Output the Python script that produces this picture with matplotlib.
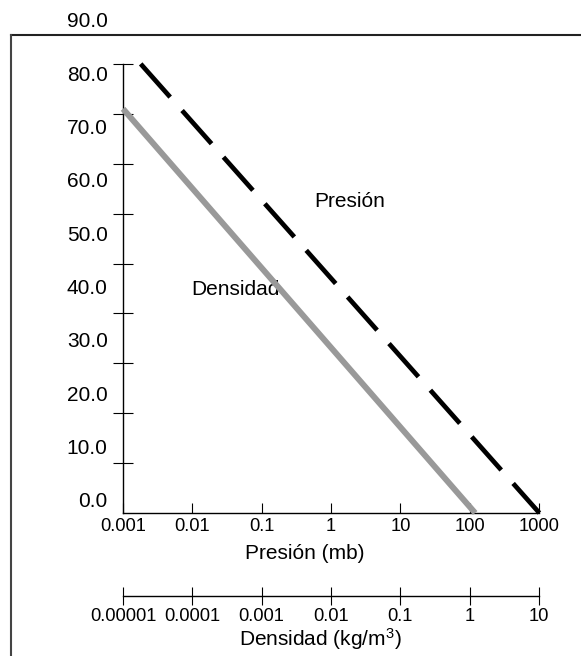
import matplotlib
matplotlib.use("Agg")
import matplotlib.pyplot as plt
from matplotlib.lines import Line2D

plt.rcParams['font.family'] = ['Liberation Sans', 'DejaVu Sans']
plt.rcParams['mathtext.fontset'] = 'custom'
plt.rcParams['mathtext.rm'] = 'Liberation Sans'
plt.rcParams['mathtext.default'] = 'rm'

# data
height_ticks = [10, 20, 30, 40, 50, 60, 70, 80, 90]
height_labels = [0, 10, 20, 30, 40, 50, 60, 70, 80, 90]
pressure_ticks = [0.001, 0.01, 0.1, 1, 10, 100, 1000]
pressure_ticklabels = ['0.001', '0.01', '0.1', '1', '10', '100', '1000']
density_ticks = [0.00001, 0.0001, 0.001, 0.01, 0.1, 1, 10]
density_ticklabels = ['0.00001', '0.0001', '0.001', '0.01', '0.1', '1', '10']

pressure_mb = [0.0018, 1013]
pressure_height = [90, 0]
density_kgm3 = [0.00001, 1.2]
density_height = [81, 0]


def label_fwd(y):
    return (y - 2.665) / 1.0688


def label_inv(v):
    return 2.665 + 1.0688 * v


fig = plt.figure(figsize=(5.81, 6.56), dpi=100)
ax = fig.add_axes([123 / 581, 143 / 656, 416 / 581, 499 / 656])

# pressure axis
ax.set_xscale('log')
ax.set_xlim(1e-3, 1e3)
ax.set_ylim(0, 100)
for s in ['top', 'right']:
    ax.spines[s].set_visible(False)
ax.spines['left'].set_bounds(0, 90)
ax.spines['left'].set_linewidth(1.0)
ax.spines['bottom'].set_linewidth(1.0)
ax.set_xticks(pressure_ticks)
ax.set_xticklabels(pressure_ticklabels)
ax.xaxis.set_minor_locator(matplotlib.ticker.NullLocator())
ax.tick_params(axis='x', direction='in', length=7.2, width=0.8, pad=3.6, labelsize=13.2)
ax.set_yticks(height_ticks)
ax.set_yticklabels([])
ax.tick_params(axis='y', direction='inout', length=14.4, width=0.8)
ax.set_xlabel('Presión (mb)', fontsize=15)
ax.xaxis.set_label_coords(0.437, -0.0615)

# height labels sit on their own scale
sec = ax.secondary_yaxis('left', functions=(label_fwd, label_inv))
sec.set_yticks(height_labels)
sec.set_yticklabels(['%.1f' % v for v in height_labels])
sec.spines['left'].set_visible(False)
sec.tick_params(axis='y', length=0, pad=11, labelsize=15)

# density axis
ax_d = ax.twiny()
ax_d.set_xscale('log')
ax_d.set_xlim(1e-5, 10)
for s in ['top', 'left', 'right']:
    ax_d.spines[s].set_visible(False)
ax_d.spines['bottom'].set_visible(True)
ax_d.spines['bottom'].set_position(('outward', 59.8))
ax_d.spines['bottom'].set_linewidth(1.0)
ax_d.xaxis.set_ticks_position('bottom')
ax_d.xaxis.set_label_position('bottom')
ax_d.set_xticks(density_ticks)
ax_d.set_xticklabels(density_ticklabels)
ax_d.xaxis.set_minor_locator(matplotlib.ticker.NullLocator())
ax_d.tick_params(axis='x', direction='inout', length=13, width=0.8, pad=2.4, labelsize=13.2)
ax_d.set_xlabel('Densidad (kg/m$^3$)', fontsize=15)
ax_d.xaxis.set_label_coords(0.475, -0.226)

# curves
ax.plot(pressure_mb, pressure_height, color='black', lw=3.4, dashes=(9.4, 3.8),
        dash_capstyle='butt', clip_on=False)
ax_d.plot(density_kgm3, density_height, color='#999999', lw=4.3,
          solid_capstyle='butt', clip_on=False)

ax.text(1.86, 61.4, 'Presión', ha='center', va='baseline', fontsize=15)
ax.text(0.0417, 43.75, 'Densidad', ha='center', va='baseline', fontsize=15)

# outer frame (only top and left edges fall inside the picture)
fig.add_artist(Line2D([11 / 581, 1], [1 - 35 / 656, 1 - 35 / 656],
                      transform=fig.transFigure, color='#222222', lw=1.5))
fig.add_artist(Line2D([11 / 581, 11 / 581], [0, 1 - 35 / 656],
                      transform=fig.transFigure, color='#444444', lw=1.5))

fig.savefig('out.png', dpi=100)
